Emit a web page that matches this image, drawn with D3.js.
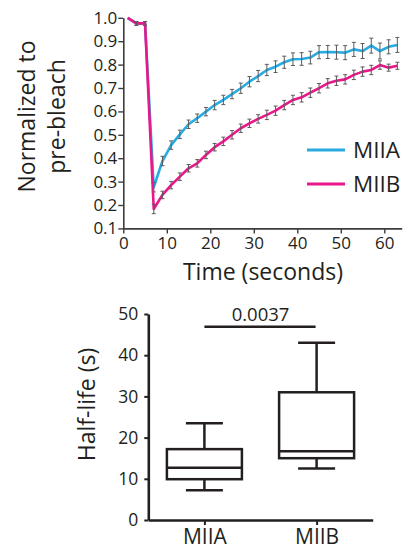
<!DOCTYPE html>
<html>
<head>
<meta charset="utf-8">
<script src="https://cdn.jsdelivr.net/npm/d3@7"></script>
<style>
  body { margin: 0; background: #fff; }
  svg { display: block; font-family: "Open Sans", sans-serif; }
</style>
</head>
<body>
<div id="chart"></div>
<script>
// FRAP recovery curves (time in seconds)
const times = [1, 3, 5, 7, 9, 11, 13, 15, 17, 19, 21, 23, 25, 27, 29, 31, 33, 35, 37, 39, 41, 43, 45, 47, 49, 51, 53, 55, 57, 59, 61, 63];
const miiaMean = [1.0, 0.976, 0.976, 0.276, 0.388, 0.456, 0.502, 0.545, 0.571, 0.599, 0.627, 0.649, 0.674, 0.699, 0.727, 0.751, 0.777, 0.791, 0.810, 0.823, 0.824, 0.830, 0.853, 0.854, 0.853, 0.851, 0.865, 0.858, 0.881, 0.858, 0.876, 0.884];
const miiaErr = [0, 0.008, 0.008, 0.02, 0.02, 0.018, 0.018, 0.018, 0.018, 0.018, 0.02, 0.02, 0.02, 0.022, 0.022, 0.024, 0.024, 0.025, 0.026, 0.027, 0.027, 0.027, 0.028, 0.028, 0.03, 0.03, 0.03, 0.032, 0.032, 0.034, 0.03, 0.032];
const miibMean = [1.0, 0.976, 0.976, 0.183, 0.243, 0.285, 0.321, 0.357, 0.378, 0.414, 0.447, 0.472, 0.500, 0.528, 0.549, 0.568, 0.585, 0.603, 0.627, 0.649, 0.660, 0.680, 0.699, 0.720, 0.731, 0.737, 0.756, 0.770, 0.777, 0.798, 0.787, 0.795];
const miibErr = [0, 0.008, 0.008, 0.02, 0.016, 0.016, 0.016, 0.016, 0.016, 0.016, 0.016, 0.018, 0.018, 0.018, 0.018, 0.018, 0.02, 0.02, 0.02, 0.02, 0.02, 0.02, 0.02, 0.02, 0.02, 0.02, 0.02, 0.02, 0.02, 0.018, 0.015, 0.015];
const xTicks = [0, 10, 20, 30, 40, 50, 60];
const yTicks = [0.1, 0.2, 0.3, 0.4, 0.5, 0.6, 0.7, 0.8, 0.9, 1.0];

// half-life box plot
const groups = ["MIIA", "MIIB"];
const whiskerLow = [7.2, 12.5];
const q1 = [9.9, 15.0];
const median = [12.7, 16.7];
const q3 = [17.2, 31.0];
const whiskerHigh = [23.5, 43.0];
const halfTicks = [0, 10, 20, 30, 40, 50];
const pLabel = "0.0037";
const pHeight = 46.9;

const width = 404, height = 550;
const ink = "#231f20";
const blue = "#29abe2", pink = "#e8178a";

const svg = d3.select("#chart")
  .append("svg")
  .attr("width", width)
  .attr("height", height);

// ---------- top: recovery curves ----------
const x = d3.scaleLinear().domain([0, 64]).range([123.3, 401.7]);
const y = d3.scaleLinear().domain([0.1, 1.0]).range([228.4, 17.8]);

const xAxis = svg.append("g")
  .attr("transform", `translate(0,${y(0.1)})`)
  .call(d3.axisBottom(x).tickValues(xTicks).tickSize(5).tickSizeOuter(0).tickPadding(4));
const yAxis = svg.append("g")
  .attr("transform", `translate(${x(0)},0)`)
  .call(d3.axisLeft(y).tickValues(yTicks).tickFormat(d3.format(".1f")).tickSize(5).tickSizeOuter(0).tickPadding(1));

[xAxis, yAxis].forEach(g => {
  g.select(".domain").attr("stroke", "#3d3d3d").attr("stroke-width", 1.6);
  g.selectAll(".tick line").attr("stroke", "#3d3d3d").attr("stroke-width", 1.4);
  g.selectAll(".tick text").attr("fill", ink).style("font-size", "17px").style("font-family", "Open Sans");
});

const series = [
  { name: "MIIA", mean: miiaMean, err: miiaErr, color: blue },
  { name: "MIIB", mean: miibMean, err: miibErr, color: pink }
];

const line = d3.line()
  .x(d => x(d.t))
  .y(d => y(d.v));

series.forEach(s => {
  const pts = times.map((t, i) => ({ t: t, v: s.mean[i], e: s.err[i] }));
  svg.append("path")
    .datum(pts)
    .attr("fill", "none")
    .attr("stroke", s.color)
    .attr("stroke-width", 2.6)
    .attr("stroke-linejoin", "round")
    .attr("d", line);

  const bars = svg.append("g")
    .attr("stroke", "#5a5a5a")
    .attr("stroke-width", 1);
  const withErr = pts.filter(d => d.e > 0);
  bars.selectAll(".v").data(withErr).join("line")
    .attr("x1", d => x(d.t)).attr("x2", d => x(d.t))
    .attr("y1", d => y(d.v + d.e)).attr("y2", d => y(d.v - d.e));
  bars.selectAll(".top").data(withErr).join("line")
    .attr("x1", d => x(d.t) - 2).attr("x2", d => x(d.t) + 2)
    .attr("y1", d => y(d.v + d.e)).attr("y2", d => y(d.v + d.e));
  bars.selectAll(".bot").data(withErr).join("line")
    .attr("x1", d => x(d.t) - 2).attr("x2", d => x(d.t) + 2)
    .attr("y1", d => y(d.v - d.e)).attr("y2", d => y(d.v - d.e));
});

// legend
series.forEach((s, i) => {
  const ly = 150 + i * 34;
  svg.append("line")
    .attr("x1", 307).attr("x2", 345)
    .attr("y1", ly).attr("y2", ly)
    .attr("stroke", s.color).attr("stroke-width", 3);
  svg.append("text")
    .attr("x", 353).attr("y", ly + 7.5)
    .attr("fill", ink)
    .style("font-size", "22.5px")
    .text(s.name);
});

// axis titles
svg.append("text")
  .attr("x", 263).attr("y", 280)
  .attr("text-anchor", "middle")
  .attr("fill", ink)
  .style("font-size", "23px")
  .text("Time (seconds)");

const yTitle = svg.append("text")
  .attr("transform", "translate(35,116.5) rotate(-90)")
  .attr("text-anchor", "middle")
  .attr("fill", ink)
  .style("font-size", "23px");
yTitle.append("tspan").attr("x", 0).attr("y", 0).text("Normalized to");
yTitle.append("tspan").attr("x", 0).attr("y", 30).text("pre-bleach");

// ---------- bottom: half-life box plot ----------
const xb = d3.scalePoint().domain(groups).range([148.3, 372.7]).padding(0.5);
const yb = d3.scaleLinear().domain([0, 50]).range([520, 314]);

const xbAxis = svg.append("g")
  .attr("transform", `translate(0,${yb(0)})`)
  .call(d3.axisBottom(xb).tickSize(5).tickSizeOuter(0).tickPadding(4));
const ybAxis = svg.append("g")
  .attr("transform", `translate(${xb.range()[0]},0)`)
  .call(d3.axisLeft(yb).tickValues(halfTicks).tickSize(4).tickSizeOuter(0).tickPadding(6));

[xbAxis, ybAxis].forEach(g => {
  g.select(".domain").attr("stroke", ink).attr("stroke-width", 2.6);
  g.selectAll(".tick line").attr("stroke", ink).attr("stroke-width", 2);
  g.selectAll(".tick text").attr("fill", ink).style("font-family", "Open Sans");
});
ybAxis.selectAll(".tick text").style("font-size", "17.5px");
xbAxis.selectAll(".tick text").style("font-size", "21px");

const boxW = 75, capW = 37;
const boxes = svg.append("g")
  .attr("stroke", ink)
  .attr("stroke-width", 2.5)
  .attr("fill", "none");

groups.forEach((g, i) => {
  const cx = xb(g);
  boxes.append("line")
    .attr("x1", cx).attr("x2", cx)
    .attr("y1", yb(whiskerHigh[i])).attr("y2", yb(q3[i]));
  boxes.append("line")
    .attr("x1", cx).attr("x2", cx)
    .attr("y1", yb(q1[i])).attr("y2", yb(whiskerLow[i]));
  [whiskerHigh[i], whiskerLow[i]].forEach(v => {
    boxes.append("line")
      .attr("x1", cx - capW / 2).attr("x2", cx + capW / 2)
      .attr("y1", yb(v)).attr("y2", yb(v));
  });
  boxes.append("rect")
    .attr("x", cx - boxW / 2).attr("width", boxW)
    .attr("y", yb(q3[i])).attr("height", yb(q1[i]) - yb(q3[i]));
  boxes.append("line")
    .attr("x1", cx - boxW / 2).attr("x2", cx + boxW / 2)
    .attr("y1", yb(median[i])).attr("y2", yb(median[i]));
});

// significance bar
svg.append("line")
  .attr("x1", xb("MIIA")).attr("x2", xb("MIIB") - 1)
  .attr("y1", yb(pHeight)).attr("y2", yb(pHeight))
  .attr("stroke", ink).attr("stroke-width", 2.5);
svg.append("text")
  .attr("x", (xb("MIIA") + xb("MIIB")) / 2)
  .attr("y", yb(pHeight) - 6)
  .attr("text-anchor", "middle")
  .attr("fill", ink)
  .style("font-size", "18.5px")
  .text(pLabel);

svg.append("text")
  .attr("transform", `translate(95,${(yb(0) + yb(50)) / 2 - 12.5}) rotate(-90)`)
  .attr("text-anchor", "middle")
  .attr("fill", ink)
  .style("font-size", "23px")
  .text("Half-life (s)");
</script>
</body>
</html>
